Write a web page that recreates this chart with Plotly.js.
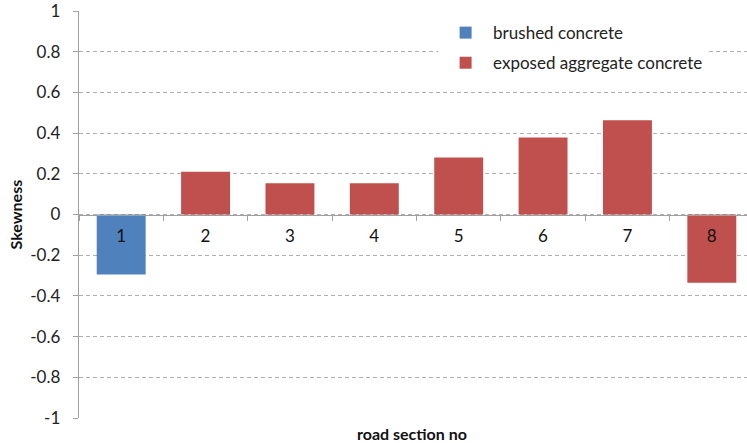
<!DOCTYPE html>
<html>
<head>
<meta charset="utf-8">
<script src="https://cdn.plot.ly/plotly-3.0.1.min.js"></script>
<style>html,body{margin:0;padding:0;background:#fff;overflow:hidden;}#chart{width:754px;height:443px;}</style>
</head>
<body>
<div id="chart"></div>
<script>
const sections = ["1", "2", "3", "4", "5", "6", "7", "8"];
const brushedSections = ["1"];
const brushedValues = [-0.295];
const exposedSections = ["2", "3", "4", "5", "6", "7", "8"];
const exposedValues = [0.21, 0.153, 0.153, 0.28, 0.378, 0.463, -0.335];
const yTickVals = [1, 0.8, 0.6, 0.4, 0.2, 0, -0.2, -0.4, -0.6, -0.8, -1];
const yTickText = ["1", "0.8", "0.6", "0.4", "0.2", "0", "-0.2", "-0.4", "-0.6", "-0.8", "-1"];

const FONT = "Lato, 'Open Sans', sans-serif";
const traces = [
  {type: "bar", name: "brushed concrete", x: brushedSections, y: brushedValues,
   marker: {color: "#4F81BD", line: {width: 0}}, legendgroup: "a", hoverinfo: "skip"},
  {type: "bar", name: "exposed aggregate concrete", x: exposedSections, y: exposedValues,
   marker: {color: "#C0504D", line: {width: 0}}, legendgroup: "b", hoverinfo: "skip"}
];
const layout = {
  width: 754, height: 443,
  margin: {l: 79, r: 0, t: 11, b: 25},
  paper_bgcolor: "#fff", plot_bgcolor: "#fff",
  font: {family: FONT, size: 17, color: "#222"},
  barmode: "overlay", bargap: 0.42,
  showlegend: true,
  legend: {x: 0.532, xanchor: "left", y: 0.99, yanchor: "top", bgcolor: "#fff",
           font: {family: FONT, size: 17, color: "#222"}, traceorder: "grouped", tracegroupgap: 5,
           itemwidth: 45},
  xaxis: {type: "category", categoryarray: sections, categoryorder: "array",
          anchor: "free", position: 0.5, showline: true, linecolor: "#A0A0A0", linewidth: 1.3,
          ticks: "outside", tickson: "boundaries", ticklen: 5, tickcolor: "#A0A0A0",
          showgrid: false, zeroline: false, ticklabelstandoff: 6,
          tickfont: {family: FONT, size: 17, color: "#111"}},
  yaxis: {range: [-1, 1], tickvals: yTickVals, ticktext: yTickText,
          showline: true, linecolor: "#A0A0A0", linewidth: 1.3, ticks: "outside", ticklen: 5,
          tickcolor: "#A0A0A0", showgrid: true, gridcolor: "#B0B0B0", griddash: "4px,3px", gridwidth: 1,
          zeroline: false, ticklabelstandoff: 9, ticklabeloverflow: "allow",
          tickfont: {family: FONT, size: 17, color: "#222"}},
  annotations: [
    {text: "<b>road section no</b>", xref: "paper", yref: "paper", x: 0.493, y: 0, yshift: -15,
     yanchor: "middle", showarrow: false, font: {family: FONT, size: 16, color: "#111"}},
    {text: "<b>Skewness</b>", xref: "paper", yref: "paper", x: 0, xshift: -64, xanchor: "center", y: 0.5,
     textangle: -90, showarrow: false, font: {family: FONT, size: 16, color: "#111"}}
  ]
};
Plotly.newPlot("chart", traces, layout, {staticPlot: true, displayModeBar: false});
</script>
</body>
</html>
